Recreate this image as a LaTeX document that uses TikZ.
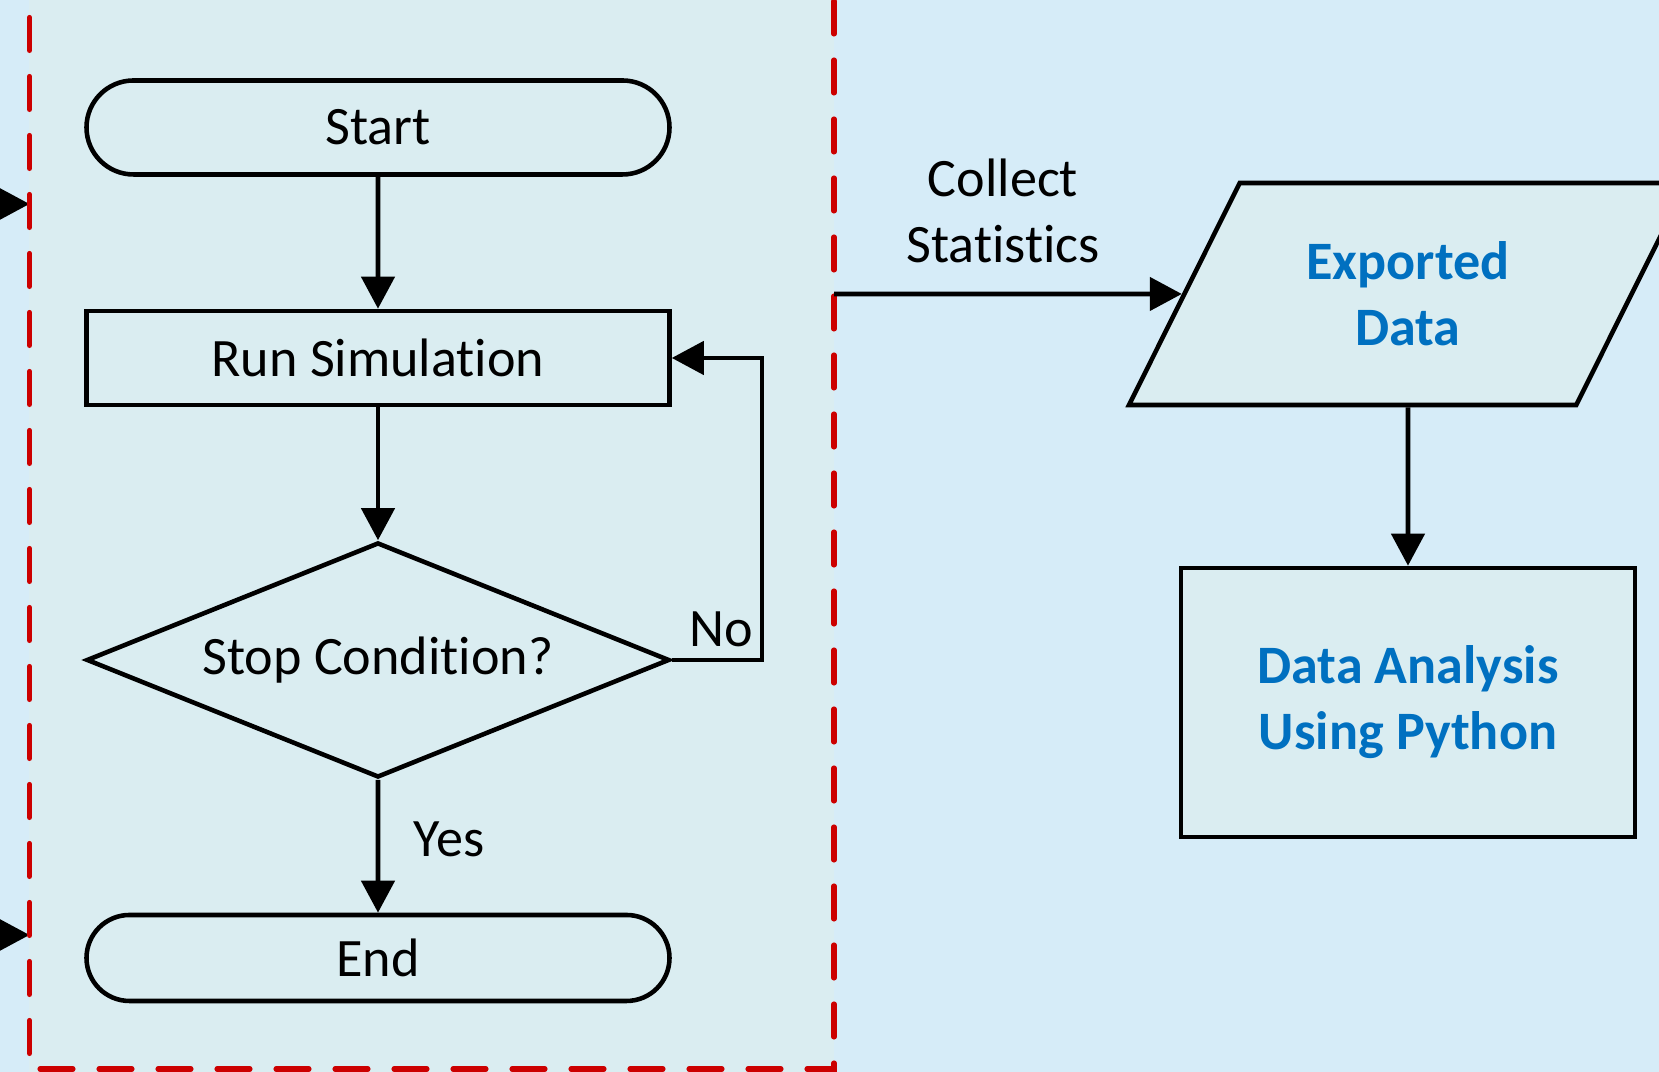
\documentclass[tikz,border=0pt]{standalone}
\usepackage{fontspec}
\setmainfont[Ligatures=NoCommon]{Carlito}
\usetikzlibrary{shapes.geometric,shapes.misc,arrows.meta}
\definecolor{sky}{RGB}{214,236,248}
\definecolor{pane}{RGB}{218,237,241}
\definecolor{rim}{RGB}{204,0,0}
\definecolor{ink}{RGB}{0,112,192}

\begin{document}
\begin{tikzpicture}[
    font=\fontsize{15.4}{18.8}\selectfont,
    line width=1.3pt,
    flow/.style={-{Triangle[length=3.2mm,width=3.3mm]}},
    terminal/.style={draw, rounded rectangle, fill=pane, minimum width=5.83cm, inner sep=0pt},
    stepbox/.style={draw, rectangle, fill=pane, minimum width=5.83cm, minimum height=0.94cm},
    decision/.style={draw, diamond, shape aspect=2.48, fill=pane, minimum width=5.83cm, minimum height=2.35cm, inner sep=0pt},
    outbox/.style={draw, fill=pane, align=center, text=ink, font=\fontsize{15.4}{18.8}\selectfont\bfseries}
  ]
  % Canvas
  \useasboundingbox (0,0) rectangle (16.59,10.72);
  \clip (0,0) rectangle (16.59,10.72);
  \fill[sky] (0,0) rectangle (16.59,10.72);
  \fill[pane] (0.295,0) rectangle (8.34,10.72);

  % Simulation loop
  \node[terminal, minimum height=0.94cm] (start) at (3.78,9.445) {Start};
  \node[stepbox] (sim) at (3.78,7.14) {Run Simulation};
  \node[decision] (stop) at (3.78,4.12) {Stop Condition?};
  \node[terminal, minimum height=0.86cm] (finish) at (3.78,1.14) {End};

  \draw[flow] (start) -- (sim);
  \draw[flow] (sim) -- (stop);
  \draw[flow] (stop) -- (finish);
  \draw[flow] (stop.east) -- ++(0.9,0) |- (sim.east);
  \node (no) at (7.215,4.425) {No};
  \node (yes) at (4.49,2.33) {Yes};

  % Incoming arrows from the left
  \coordinate (src1) at (-0.6,8.68);
  \coordinate (gate1) at (0.295,8.68);
  \coordinate (src2) at (-0.6,1.37);
  \coordinate (gate2) at (0.295,1.37);
  \draw[flow] (src1) -- (gate1);
  \draw[flow] (src2) -- (gate2);

  % Dashed frame
  \draw[rim, line width=1.45pt, line cap=round, dash pattern=on 3.3mm off 2.6mm]
    (0.295,11.135) -- (0.295,0.03) -- (8.34,0.03) -- (8.34,11.2);

  % Post-processing
  \node (collect) [align=center] at (10.03,8.61) {Collect\\Statistics};
  \node[outbox, trapezium, trapezium left angle=63.43, trapezium right angle=116.57,
        trapezium stretches body, inner ysep=0.585cm, minimum width=5.58cm, minimum height=2.22cm]
        (exported) at (14.08,7.78) {Exported\\Data};
  \node[outbox, minimum width=4.54cm, minimum height=2.69cm] (analysis) at (14.08,3.695)
        {Data Analysis\\Using Python};

  \coordinate (tap) at (8.34,7.78);
  \draw[flow] (tap) -- (exported);
  \draw[flow] (exported) -- (analysis);
\end{tikzpicture}
\end{document}
